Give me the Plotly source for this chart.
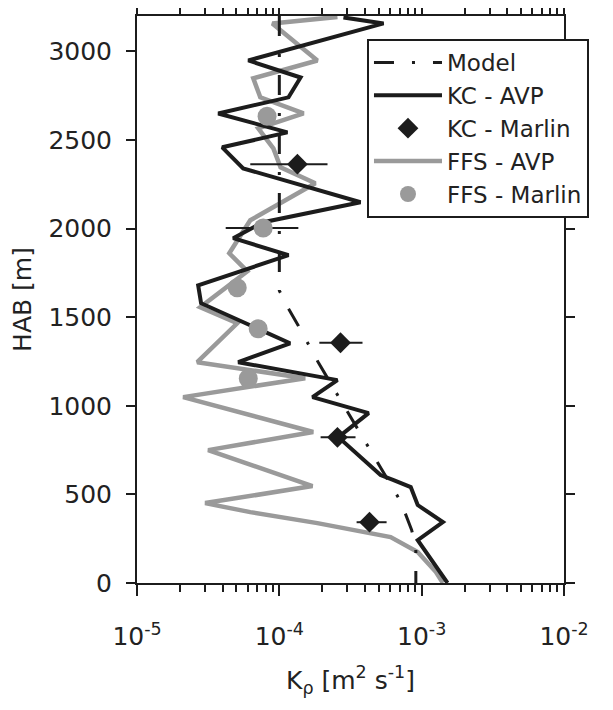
import plotly.graph_objects as go

# ---- data (HAB in m, K in m^2/s) ----
model_hab = [3200, 1650, 1548, 1452, 1244, 861, 681, 462, 300, 200, 0]
model_k = [1.0e-4, 1.0e-4, 1.16e-4, 1.36e-4, 1.88e-4, 3.6e-4, 4.9e-4, 7.1e-4, 8.5e-4, 9.1e-4, 9.1e-4]

kc_avp_hab = [3192, 3158, 2949, 2853, 2741, 2650, 2543, 2459, 2340, 2149, 2036, 1946, 1850,
              1680, 1579, 1353, 1246, 1145, 1049, 959, 823, 609, 581, 541, 440, 344, 242, 0]
kc_avp_k = [2.82e-4, 5.40e-4, 6.05e-5, 1.41e-4, 1.16e-4, 3.72e-5, 1.14e-4, 3.97e-5, 5.57e-5,
            3.72e-4, 7.71e-5, 4.74e-5, 1.16e-4, 2.69e-5, 2.82e-5, 1.19e-4, 5.14e-5, 2.56e-4,
            1.71e-4, 4.24e-4, 2.60e-4, 5.14e-4, 6.35e-4, 8.38e-4, 9.38e-4, 1.41e-3, 9.38e-4, 1.52e-3]

ffs_avp_hab = [3195, 3158, 2949, 2848, 2741, 2650, 2566, 2453, 2346, 2256, 2047, 1861, 1759,
               1556, 1466, 1246, 1156, 1049, 852, 750, 547, 451, 400, 338, 259, 175, 62, 0]
ffs_avp_k = [2.56e-4, 8.93e-5, 1.85e-4, 6.56e-5, 7.35e-5, 1.48e-4, 7.11e-5, 9.08e-5, 1.02e-4,
             1.79e-4, 6.25e-5, 4.45e-5, 5.96e-5, 2.78e-5, 5.06e-5, 2.65e-5, 1.52e-4, 2.11e-5,
             1.73e-4, 3.16e-5, 1.71e-4, 3.01e-5, 6.25e-5, 1.85e-4, 6.05e-4, 9.38e-4, 1.26e-3, 1.41e-3]

kc_marlin_hab = [2364, 1356, 822, 343]
kc_marlin_k = [1.34e-4, 2.69e-4, 2.56e-4, 4.3e-4]
kc_marlin_lo = [6.25e-5, 1.91e-4, 1.95e-4, 3.49e-4]
kc_marlin_hi = [2.18e-4, 3.84e-4, 3.43e-4, 5.67e-4]

ffs_marlin_hab = [2634, 2003, 1666, 1435, 1154]
ffs_marlin_k = [8.2e-5, 7.7e-5, 5.06e-5, 7.1e-5, 6.05e-5]
ffs_marlin_lo = [7.55e-5, 4.2e-5, 4.66e-5, 6.55e-5, 5.95e-5]
ffs_marlin_hi = [8.9e-5, 1.36e-4, 5.49e-5, 7.7e-5, 6.15e-5]

x_tickvals = [1e-5, 1e-4, 1e-3, 1e-2]
x_ticktext = ["10<sup>-5</sup>", "10<sup>-4</sup>", "10<sup>-3</sup>", "10<sup>-2</sup>"]
x_minor = [m * 10 ** e for e in (-5, -4, -3) for m in range(2, 10)]
y_tickvals = [0, 500, 1000, 1500, 2000, 2500, 3000]

BLACK = "#1c1c1c"
GRAY = "#9a9a9a"
FONT = "DejaVu Sans"
FS = 25

fig = go.Figure()

fig.add_trace(go.Scatter(
    x=ffs_avp_k, y=ffs_avp_hab, mode="lines", name="FFS - AVP",
    line=dict(color=GRAY, width=4.5), legendrank=4))
fig.add_trace(go.Scatter(
    x=kc_avp_k, y=kc_avp_hab, mode="lines", name="KC - AVP",
    line=dict(color=BLACK, width=4), legendrank=2))
fig.add_trace(go.Scatter(
    x=model_k, y=model_hab, mode="lines", name="Model",
    line=dict(color=BLACK, width=3, dash="20px,18px,3px,18px"), legendrank=1))
fig.add_trace(go.Scatter(
    x=kc_marlin_k, y=kc_marlin_hab, mode="markers", name="KC - Marlin",
    marker=dict(symbol="diamond", size=16, color=BLACK),
    error_x=dict(type="data", symmetric=False,
                 array=[h - k for h, k in zip(kc_marlin_hi, kc_marlin_k)],
                 arrayminus=[k - l for k, l in zip(kc_marlin_k, kc_marlin_lo)],
                 color=BLACK, thickness=2, width=0),
    legendrank=3))
fig.add_trace(go.Scatter(
    x=ffs_marlin_k, y=ffs_marlin_hab, mode="markers", name="FFS - Marlin",
    marker=dict(symbol="circle", size=19, color=GRAY),
    error_x=dict(type="data", symmetric=False,
                 array=[h - k for h, k in zip(ffs_marlin_hi, ffs_marlin_k)],
                 arrayminus=[k - l for k, l in zip(ffs_marlin_k, ffs_marlin_lo)],
                 color=BLACK, thickness=2, width=0),
    legendrank=5))

fig.update_layout(
    width=605, height=702,
    margin=dict(l=129, r=49, t=8, b=127),
    paper_bgcolor="white", plot_bgcolor="white",
    font=dict(family=FONT, size=FS, color="#222"),
    showlegend=True,
    legend=dict(x=0.5386, y=0.9595, xanchor="left", yanchor="top",
                bgcolor="white", bordercolor=BLACK, borderwidth=2,
                font=dict(family=FONT, size=23, color="#222"),
                itemwidth=68, tracegroupgap=0),
)
fig.update_xaxes(
    type="log", range=[-5, -2], automargin=False,
    tickmode="array", tickvals=x_tickvals, ticktext=x_ticktext,
    ticks="outside", ticklen=11, tickwidth=2, tickcolor=BLACK,
    minor=dict(tickmode="array", tickvals=x_minor, ticks="outside",
               ticklen=7, tickwidth=2, tickcolor=BLACK, showgrid=False),
    showline=True, linewidth=2, linecolor=BLACK, mirror="ticks",
    showgrid=False, zeroline=False,
    ticklabelstandoff=19,
    title=dict(text="K<sub>ρ</sub> [m<sup>2</sup> s<sup>-1</sup>]", standoff=21,
               font=dict(family=FONT, size=FS)),
)
fig.update_yaxes(
    range=[0, 3200], automargin=False,
    tickmode="array", tickvals=y_tickvals,
    ticks="outside", ticklen=9, tickwidth=2, tickcolor=BLACK,
    showline=True, linewidth=2, linecolor=BLACK, mirror="ticks",
    showgrid=False, zeroline=False,
    ticklabelstandoff=9,
    title=dict(text="HAB [m]", standoff=17, font=dict(family=FONT, size=FS)),
)

fig.write_html("out.html")
